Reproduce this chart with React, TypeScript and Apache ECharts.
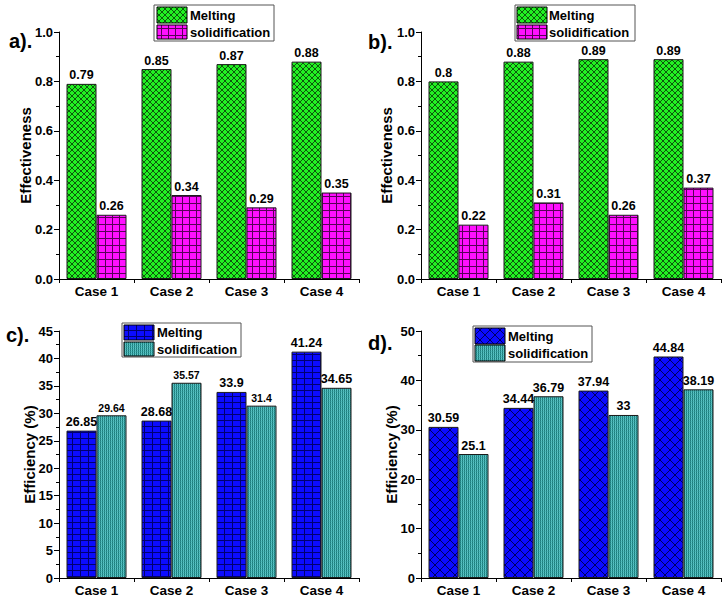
import React, { useEffect, useRef } from "react";
import * as echarts from "echarts";

const cases = ["Case 1", "Case 2", "Case 3", "Case 4"];
const aMelting = [0.79, 0.85, 0.87, 0.88];
const aSolid = [0.26, 0.34, 0.29, 0.35];
const bMelting = [0.8, 0.88, 0.89, 0.89];
const bSolid = [0.22, 0.31, 0.26, 0.37];
const cMelting = [26.85, 28.68, 33.9, 41.24];
const cSolid = [29.64, 35.57, 31.4, 34.65];
const dMelting = [30.59, 34.44, 37.94, 44.84];
const dSolid = [25.1, 36.79, 33, 38.19];
const cSolidSmallLabels = [0, 1, 2];
const legendNames = ["Melting", "solidification"];
const panelTags = ["a).", "b).", "c).", "d)."];

const FONT = '"Liberation Sans", Arial, sans-serif';

function pat(w: number, h: number, bg: string, draw: (c: CanvasRenderingContext2D) => void) {
  const cv = document.createElement("canvas");
  cv.width = w;
  cv.height = h;
  const c = cv.getContext("2d")!;
  c.fillStyle = bg;
  c.fillRect(0, 0, w, h);
  draw(c);
  return { image: cv, repeat: "repeat", imageWidth: w, imageHeight: h } as any;
}

function cross(c: CanvasRenderingContext2D, s: number, col: string) {
  c.strokeStyle = col;
  c.lineWidth = 1;
  c.beginPath();
  c.moveTo(-1, -1);
  c.lineTo(s + 1, s + 1);
  c.moveTo(-1, s + 1);
  c.lineTo(s + 1, -1);
  c.stroke();
}

function grid(c: CanvasRenderingContext2D, w: number, h: number, col: string) {
  c.fillStyle = col;
  c.fillRect(0, 0, w, 1);
  c.fillRect(0, 0, 1, h);
}

export default function App() {
  const ref = useRef<HTMLDivElement>(null);
  useEffect(() => {
    const chart = echarts.init(ref.current!, null, { renderer: "svg" });

    const green = pat(6, 6, "#22f022", (c) => cross(c, 6, "rgba(10,60,10,0.85)"));
    const magenta = pat(7, 7, "#ff10ff", (c) => grid(c, 7, 7, "#5a005a"));
    const blueGrid = pat(8, 6, "#0c0cff", (c) => grid(c, 8, 6, "#000070"));
    const blueCross = pat(10, 10, "#0c0cff", (c) => cross(c, 10, "#000060"));
    const teal = pat(2, 2, "#2f9a9a", (c) => {
      c.fillStyle = "#1c7c7c";
      c.fillRect(0, 0, 1, 1);
      c.fillStyle = "#5ec6c6";
      c.fillRect(1, 0, 1, 1);
      c.fillStyle = "#2a8f8f";
      c.fillRect(0, 1, 1, 1);
      c.fillStyle = "#4ab6b6";
      c.fillRect(1, 1, 1, 1);
    });

    const grids = [
      { left: 59, top: 32, width: 300, height: 247 },
      { left: 421, top: 32, width: 300, height: 247 },
      { left: 59, top: 331, width: 300, height: 247 },
      { left: 421, top: 331, width: 300, height: 247 },
    ];

    const yDefs = [
      { max: 1, interval: 0.2, name: "Effectiveness", gap: 26, fmt: (v: number) => v.toFixed(1) },
      { max: 1, interval: 0.2, name: "Effectiveness", gap: 27, fmt: (v: number) => v.toFixed(1) },
      { max: 45, interval: 5, name: "Efficiency (%)", gap: 22, fmt: (v: number) => String(v) },
      { max: 50, interval: 10, name: "Efficiency (%)", gap: 22, fmt: (v: number) => String(v) },
    ];

    const axisLine = { show: true, lineStyle: { color: "#000", width: 1 } };

    const xAxis = grids.map((_, i) => ({
      type: "category",
      gridIndex: i,
      data: cases,
      axisLine,
      axisTick: { show: true, inside: false, length: 4, lineStyle: { color: "#000" } },
      axisLabel: { margin: 5, color: "#000", fontWeight: "bold", fontSize: 13.5, fontFamily: FONT },
    }));

    const yAxis = yDefs.map((d, i) => ({
      type: "value",
      gridIndex: i,
      min: 0,
      max: d.max,
      interval: d.interval,
      name: d.name,
      nameLocation: "middle",
      nameGap: d.gap,
      nameMoveOverlap: false,
      nameTextStyle: { color: "#000", fontWeight: "bold", fontSize: 15, fontFamily: FONT },
      axisLine,
      splitLine: { show: false },
      axisTick: { show: true, inside: false, length: 5, lineStyle: { color: "#000" } },
      minorTick: { show: true, splitNumber: 2, length: 3, lineStyle: { color: "#000" } },
      axisLabel: { margin: 6, color: "#000", fontWeight: "bold", fontSize: 13, fontFamily: FONT, formatter: d.fmt },
    }));

    const lbl = { show: true, position: "top", distance: 2, color: "#000", fontWeight: "bold", fontSize: 12.5, fontFamily: FONT };

    const mk = (name: string, idx: number, values: number[], fill: any, small: number[] = []) => ({
      type: "bar",
      name,
      xAxisIndex: idx,
      yAxisIndex: idx,
      barGap: "0%",
      barCategoryGap: "20%",
      data: values.map((v, k) => (small.includes(k) ? { value: v, label: { fontSize: 10.5 } } : v)),
      itemStyle: { color: fill, borderColor: "#1a1a1a", borderWidth: 1 },
      label: lbl,
    });

    const series = [
      mk(legendNames[0], 0, aMelting, green),
      mk(legendNames[1], 0, aSolid, magenta),
      mk(legendNames[0], 1, bMelting, green),
      mk(legendNames[1], 1, bSolid, magenta),
      mk(legendNames[0], 2, cMelting, blueGrid),
      mk(legendNames[1], 2, cSolid, teal, cSolidSmallLabels),
      mk(legendNames[0], 3, dMelting, blueCross),
      mk(legendNames[1], 3, dSolid, teal),
    ];

    const legendBox = (x: number, y: number, w: number, h: number, sx: number, sw: number, tx: number, rows: number[][], fills: any[]) => ({
      type: "group",
      children: [
        { type: "rect", shape: { x, y, width: w, height: h }, style: { fill: "#fff", stroke: "#555", lineWidth: 1 } },
        ...rows.map((r, k) => ({
          type: "rect",
          shape: { x: sx, y: r[0], width: sw, height: r[1] - r[0] },
          style: { fill: fills[k], stroke: "#000", lineWidth: 1 },
        })),
        ...rows.map((r, k) => ({
          type: "text",
          x: tx,
          y: (r[0] + r[1]) / 2,
          style: { text: legendNames[k], fill: "#000", fontWeight: "bold", fontSize: 13, fontFamily: FONT, verticalAlign: "middle", align: "left" },
        })),
      ],
    });

    const tags = [
      [9, 41],
      [368, 42],
      [6, 335],
      [368, 343],
    ];

    const graphic = [
      legendBox(154, 5, 120, 36, 157, 30, 190, [[7, 23], [25, 39]], [green, magenta]),
      legendBox(515, 5, 120, 36, 517, 30, 549, [[7, 23], [25, 39]], [green, magenta]),
      legendBox(122, 323, 119, 34, 124, 30, 157, [[325, 340], [342, 356]], [blueGrid, teal]),
      legendBox(473, 326, 119, 36, 475, 30, 508, [[328, 344], [345, 361]], [blueCross, teal]),
      ...tags.map((t, i) => ({
        type: "text",
        x: t[0],
        y: t[1],
        style: { text: panelTags[i], fill: "#000", fontWeight: "bold", fontSize: 20, fontFamily: FONT, verticalAlign: "middle", align: "left" },
      })),
    ];

    chart.setOption({
      animation: false,
      backgroundColor: "#fff",
      grid: grids,
      xAxis,
      yAxis,
      series,
      graphic,
    } as any);
    return () => chart.dispose();
  }, []);
  return <div ref={ref} style={{ position: "absolute", left: 0, top: 0, width: 724, height: 602 }} />;
}
